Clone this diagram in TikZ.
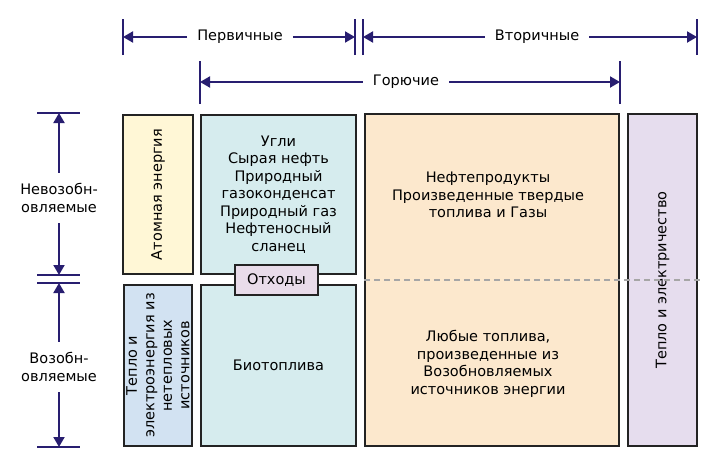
\documentclass[tikz,border=0pt]{standalone}
\usepackage{fontspec}
\setmainfont{DejaVu Sans}
\usetikzlibrary{shapes,arrows.meta,positioning}
\definecolor{navy}{RGB}{40,30,112}
\definecolor{edge}{RGB}{35,35,35}
\definecolor{atomfill}{RGB}{255,247,214}
\definecolor{fossilfill}{RGB}{214,236,238}
\definecolor{elecfill}{RGB}{210,226,242}
\definecolor{derivfill}{RGB}{252,232,205}
\definecolor{heatfill}{RGB}{230,221,238}
\definecolor{wastefill}{RGB}{233,220,234}
\tikzstyle{box} = [rectangle, draw=edge, line width=2pt, align=center,
    inner sep=0pt, font=\fontsize{14.5}{17.5}\selectfont]
\tikzstyle{txt} = [align=center, inner sep=0pt, font=\fontsize{14.5}{17.5}\selectfont]
\tikzstyle{lbl} = [align=center, inner xsep=10pt, inner ysep=10pt,
    font=\fontsize{14.5}{18.5}\selectfont]
\tikzstyle{line} = [draw=navy, line width=2pt, -{Triangle[length=10pt,width=11pt]}]
\tikzstyle{bar} = [draw=navy, line width=2.5pt]
\tikzstyle{gap} = [draw=black!35, line width=1.5pt, dash pattern=on 6pt off 4pt]

\begin{document}
\begin{tikzpicture}[x=1pt, y=-1pt]
    \useasboundingbox (0,0) rectangle (707,469);
    % Place nodes
    \node [box, fill=atomfill, rotate=90, minimum width=159pt, minimum height=70pt] (atom) at (158,194.5) {Атомная энергия};
    \node [box, fill=fossilfill, minimum width=155pt, minimum height=159pt] (fossil) at (278.5,194.5) {Угли\\Сырая нефть\\Природный\\газоконденсат\\Природный газ\\Нефтеносный\\сланец};
    \node [box, fill=elecfill, rotate=90, minimum width=161pt, minimum height=68pt] (elec) at (158,365.5) {Тепло и\\электроэнергия из\\нетепловых\\источников};
    \node [box, fill=fossilfill, minimum width=155pt, minimum height=161pt] (bio) at (278.5,365.5) {Биотоплива};
    \node [box, fill=derivfill, minimum width=254pt, minimum height=332pt] (deriv) at (492,280) {};
    \node [box, fill=heatfill, rotate=90, minimum width=332pt, minimum height=69pt] (heat) at (662.5,280) {Тепло и электричество};
    \node [txt] (derivup) at (488,195) {Нефтепродукты\\Произведенные твердые\\топлива и Газы};
    \node [txt] (derivlow) at (488,364) {Любые топлива,\\произведенные из\\Возобновляемых\\источников энергии};
    \path [gap] (deriv.west) -- ([xshift=2pt]deriv.west -| heat.south);
    \node [box, fill=wastefill, minimum width=83pt, minimum height=30pt] (waste) at (276.5,280) {Отходы};

    % Labels
    \node [lbl] (prim) at (240,37) {Первичные};
    \node [lbl] (sec) at (537,37) {Вторичные};
    \node [lbl] (comb) at (406,82) {Горючие};
    \node [lbl] (nonren) at (59,198) {Невозобн-\\овляемые};
    \node [lbl] (ren) at (59,367) {Возобн-\\овляемые};

    % Limits
    \coordinate (primL) at (123,37);
    \coordinate (primR) at (355,37);
    \coordinate (secL) at (363,37);
    \coordinate (secR) at (697,37);
    \coordinate (combL) at (200,82);
    \coordinate (combR) at (620,82);
    \coordinate (nonT) at (59,113);
    \coordinate (nonB) at (59,275);
    \coordinate (renT) at (59,283);
    \coordinate (renB) at (59,447);
    \foreach \c in {primL,primR,secL,secR}
        \path [bar] ([yshift=-18pt]\c) -- ([yshift=18pt]\c);
    \foreach \c in {combL,combR}
        \path [bar] ([yshift=-22pt]\c) -- ([yshift=21pt]\c);
    \foreach \c in {nonT,nonB,renT,renB}
        \path [bar] ([xshift=-22pt]\c) -- ([xshift=21pt]\c);

  \path [line] (prim) -- (primL);
  \path [line] (prim) -- (primR);
  \path [line] (sec) -- (secL);
  \path [line] (sec) -- (secR);
  \path [line] (comb) -- (combL);
  \path [line] (comb) -- (combR);
  \path [line] (nonren) -- (nonT);
  \path [line] (nonren) -- (nonB);
  \path [line] (ren) -- (renT);
  \path [line] (ren) -- (renB);
\end{tikzpicture}
\end{document}
